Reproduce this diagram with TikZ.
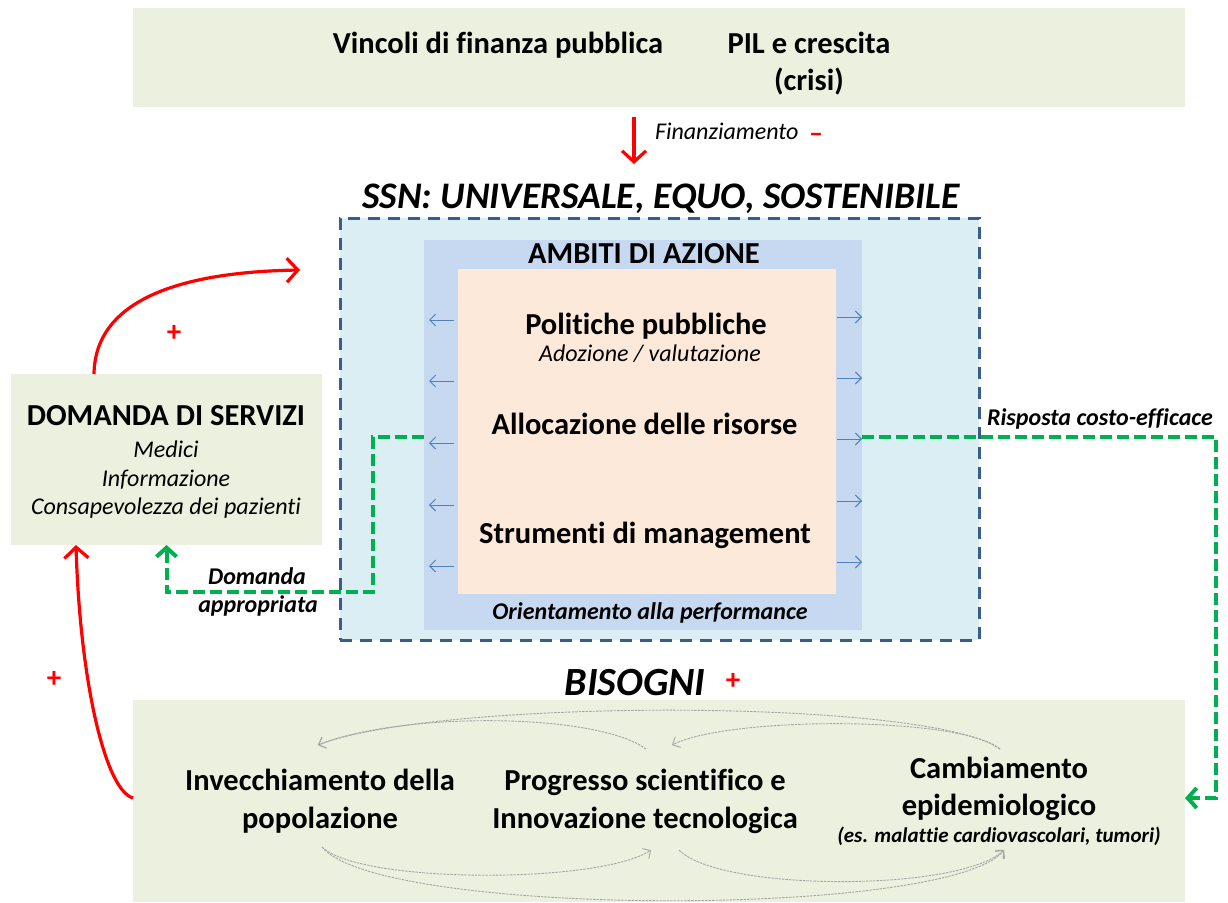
\documentclass[tikz,border=0pt]{standalone}
\usepackage{fontspec}
\setmainfont{Carlito}[Ligatures=NoCommon]
\usetikzlibrary{arrows.meta}
\definecolor{bandgreen}{HTML}{EBF1DE}
\definecolor{ssnfill}{HTML}{DAEEF3}
\definecolor{ssnborder}{HTML}{385D8A}
\definecolor{ambfill}{HTML}{C6D9F1}
\definecolor{peach}{HTML}{FDE9D9}
\definecolor{arrblue}{HTML}{4F81BD}
\definecolor{dgreen}{HTML}{00B050}
\definecolor{arcgray}{HTML}{A6A6A6}
\newcommand\fsz[1]{\fontsize{#1}{#1}\selectfont}
\begin{document}
\begin{tikzpicture}[x=1pt,y=-1pt,
  every node/.style={inner sep=0pt,outer sep=0pt},
  band/.style={fill=bandgreen},
  bigb/.style={font=\fsz{30.5}\bfseries,anchor=base},
  itl/.style={font=\fsz{24}\itshape,anchor=base},
  bitl/.style={font=\fsz{24}\bfseries\itshape,anchor=base},
  redarr/.style={draw=red,line width=3.2pt,-{Straight Barb[length=11pt,width=24pt]}},
  plus/.style={font=\fsz{29}\bfseries,text=red},
  greendash/.style={draw=dgreen,line width=4pt,dash pattern=on 12pt off 5pt,-{Straight Barb[length=9pt,width=20pt]}},
  smallarr/.style={draw=arrblue,line width=0.9pt,-{Straight Barb[length=6pt,width=12pt]}},
  grayarc/.style={draw=arcgray,line width=0.9pt,dash pattern=on 2.5pt off 1pt,-{Straight Barb[length=6pt,width=12pt]}}
]
\useasboundingbox (0,0) rectangle (1228,902);
\fill[white] (0,0) rectangle (1228,902);

% top band
\node[band,minimum width=1052pt,minimum height=99pt] (topband) at (659,57.5) {};
\node[bigb] (vinc) at (498,53) {Vincoli di finanza pubblica};
\node[bigb] (pil1) at (809,53) {PIL e crescita};
\node[bigb] (pil2) at (809,90) {(crisi)};

% financing arrow
\coordinate (fintop) at (634,117);
\coordinate (finbot) at (634,164);
\draw[redarr] (fintop) -- (finbot);
\node[font=\fsz{24}\itshape,anchor=base west] (fin) at (655,139) {Finanziamento};
\node[font=\fsz{28}\bfseries,text=red,anchor=base] (minus) at (816,142) {–};

% SSN
\node[font=\fsz{37.5}\bfseries\itshape,anchor=base] (ssntitle) at (661,208) {SSN: UNIVERSALE, EQUO, SOSTENIBILE};
\node[fill=ssnfill,draw=ssnborder,line width=3pt,dash pattern=on 12pt off 8pt,minimum width=639pt,minimum height=422pt] (ssn) at (659.5,429) {};
\node[fill=ambfill,minimum width=438pt,minimum height=390pt] (amb) at (643,435) {};
\node[bigb] (ambtitle) at (644,263) {AMBITI DI AZIONE};
\node[fill=peach,minimum width=378pt,minimum height=325pt] (peach) at (647,431.5) {};
\node[bigb] (pol) at (646,334) {Politiche pubbliche};
\node[itl] (adoz) at (650,361) {Adozione / valutazione};
\node[bigb] (alloc) at (644.5,434) {Allocazione delle risorse};
\node[bigb] (strum) at (645,543) {Strumenti di management};
\node[bitl] (orient) at (650,619) {Orientamento alla performance};

\foreach \yy in {320,381,443,505,566}
  \draw[smallarr,shorten <=4pt,shorten >=5pt] (peach.west |- 0,\yy) -- (amb.west |- 0,\yy);
\foreach \yy in {317,378,439,501,562}
  \draw[smallarr,shorten <=1pt] (peach.east |- 0,\yy) -- (amb.east |- 0,\yy);

% domanda box
\node[band,minimum width=311pt,minimum height=171pt] (dom) at (166.5,459.5) {};
\node[bigb] (domt) at (166,425) {DOMANDA DI SERVIZI};
\node[itl] (med) at (166,457) {Medici};
\node[itl] (inf) at (166,486) {Informazione};
\node[itl] (cons) at (166,514) {Consapevolezza dei pazienti};

% red feedback curves
\coordinate (ssnin) at (300,270);
\draw[redarr] ([xshift=83pt]dom.north west) .. controls (95,300) and (180,272) .. (ssnin);
\node[plus] (plus1) at (174,333) {+};

% bisogni
\node[font=\fsz{40}\bfseries\itshape,anchor=base] (bis) at (635,695) {BISOGNI};
\node[plus] (plus3) at (733,681) {+};
\node[band,minimum width=1052pt,minimum height=202pt] (botband) at (659,801) {};

\draw[redarr] (botband.west |- 0,798) .. controls (105,790) and (80,680) .. ([xshift=65pt]dom.south west);
\node[plus] (plus2) at (54,679) {+};

% green dashed responses
\draw[greendash] (amb.west |- 0,437) -| (373,592) -| (dom.south);
\node[bitl] (dom1) at (257,584) {Domanda};
\node[bitl] (dom2) at (258,612) {appropriata};
\draw[greendash] (amb.east |- 0,437) -| (1216,798) -- (botband.east |- 0,798);
\node[bitl] (risp) at (1100,425) {Risposta costo-efficace};

% needs
\node[bigb] (inv1) at (320,790) {Invecchiamento della};
\node[bigb] (inv2) at (320,828) {popolazione};
\node[bigb] (pro1) at (645,790) {Progresso scientifico e};
\node[bigb] (pro2) at (645,828) {Innovazione tecnologica};
\node[bigb] (cam1) at (999,778) {Cambiamento};
\node[bigb] (cam2) at (999,815) {epidemiologico};
\node[font=\fsz{21}\bfseries\itshape,anchor=base] (cam3) at (999,842) {(es. malattie cardiovascolari, tumori)};

% gray interaction arcs
\coordinate (invT) at (318,745);
\coordinate (proT) at (646,749);
\coordinate (proTa) at (672,745);
\coordinate (camT) at (1000,749);
\coordinate (invB) at (322,847);
\coordinate (proB) at (651,850);
\coordinate (proBs) at (679,850);
\coordinate (camB) at (1004,850);
\draw[grayarc] (proT) .. controls (595,712) and (400,712) .. (invT);
\draw[grayarc] (camT) .. controls (930,698) and (440,698) .. (invT);
\draw[grayarc] (camT) .. controls (960,716) and (730,716) .. (proTa);
\draw[grayarc] (invB) .. controls (360,884) and (600,884) .. (proB);
\draw[grayarc] (proBs) .. controls (720,892) and (960,892) .. (camB);
\draw[grayarc] (invB) .. controls (380,918) and (950,918) .. (camB);
\end{tikzpicture}
\end{document}
